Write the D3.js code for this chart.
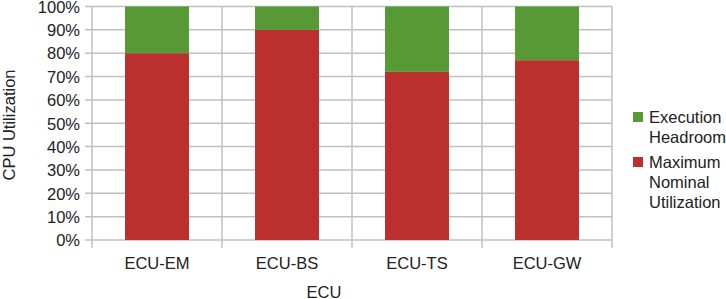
<!DOCTYPE html>
<html><head><meta charset="utf-8">
<script src="https://cdn.jsdelivr.net/npm/d3@7"></script>
<style>body{margin:0;background:#fff}svg{display:block}text{font-family:"Liberation Sans",Arial,sans-serif;fill:#222}</style>
</head><body>
<svg id="c" width="726" height="299"></svg>
<script>
const categories = ["ECU-EM","ECU-BS","ECU-TS","ECU-GW"];
const maxNominal = [80, 90, 72, 77];
const headroom = [20, 10, 28, 23];
const yTicks = [0,10,20,30,40,50,60,70,80,90,100];
const seriesNames = ["Maximum Nominal Utilization","Execution Headroom"];
const colors = {"Maximum Nominal Utilization":"#bb2f2e","Execution Headroom":"#579a35"};

const svg = d3.select("#c");
const pLeft = 92, pRight = 612, pTop = 6.5, pBottom = 240;
const fs = 16.5;
const x = d3.scaleBand().domain(categories).range([pLeft,pRight]).paddingInner(0.508).paddingOuter(0.254);
const y = d3.scaleLinear().domain([0,100]).range([pBottom,pTop]);

// gridlines
svg.append("g").selectAll("line").data(yTicks).join("line")
  .attr("x1",pLeft-7).attr("x2",pRight).attr("y1",d=>y(d)).attr("y2",d=>y(d))
  .attr("stroke","#c0c0c0").attr("stroke-width",1.5);
// vertical category boundaries
const bounds = d3.range(categories.length+1).map(i=>pLeft+i*(pRight-pLeft)/categories.length);
svg.append("g").selectAll("line").data(bounds).join("line")
  .attr("x1",d=>d).attr("x2",d=>d).attr("y1",pTop).attr("y2",pBottom+8)
  .attr("stroke","#c0c0c0").attr("stroke-width",1.5);

const data = categories.map((c,i)=>({cat:c,"Maximum Nominal Utilization":maxNominal[i],"Execution Headroom":headroom[i]}));
const stack = d3.stack().keys(seriesNames)(data);
svg.append("g").selectAll("g").data(stack).join("g")
  .attr("fill",d=>colors[d.key])
  .selectAll("rect").data(d=>d).join("rect")
  .attr("x",d=>x(d.data.cat)).attr("width",x.bandwidth())
  .attr("y",d=>y(d[1])).attr("height",d=>y(d[0])-y(d[1]));

// y tick labels
svg.append("g").selectAll("text").data(yTicks).join("text")
  .attr("x",80).attr("y",d=>y(d)+0.5).attr("dy","0.35em").attr("text-anchor","end")
  .attr("font-size",fs).text(d=>d+"%");
// x labels
svg.append("g").selectAll("text").data(categories).join("text")
  .attr("x",d=>x(d)+x.bandwidth()/2).attr("y",263).attr("dy","0.35em").attr("text-anchor","middle")
  .attr("font-size",fs).text(d=>d);
// axis titles
svg.append("text").attr("x",324).attr("y",292).attr("dy","0.35em").attr("text-anchor","middle").attr("font-size",fs).text("ECU");
svg.append("text").attr("transform","translate(9,125) rotate(-90)").attr("dy","0.35em").attr("text-anchor","middle").attr("font-size",fs).text("CPU Utilization");

// legend
const legend = [{name:"Execution Headroom",lines:["Execution","Headroom"],y:117},{name:"Maximum Nominal Utilization",lines:["Maximum","Nominal","Utilization"],y:162}];
const lg = svg.append("g").selectAll("g").data(legend).join("g");
lg.append("rect").attr("x",633).attr("y",d=>d.y-5).attr("width",10).attr("height",10).attr("fill",d=>colors[d.name]);
lg.each(function(d){
  d3.select(this).selectAll("text").data(d.lines).join("text")
    .attr("x",649).attr("y",(t,i)=>d.y+i*20).attr("dy","0.35em").attr("font-size",fs).text(t=>t);
});
</script>
</body></html>
